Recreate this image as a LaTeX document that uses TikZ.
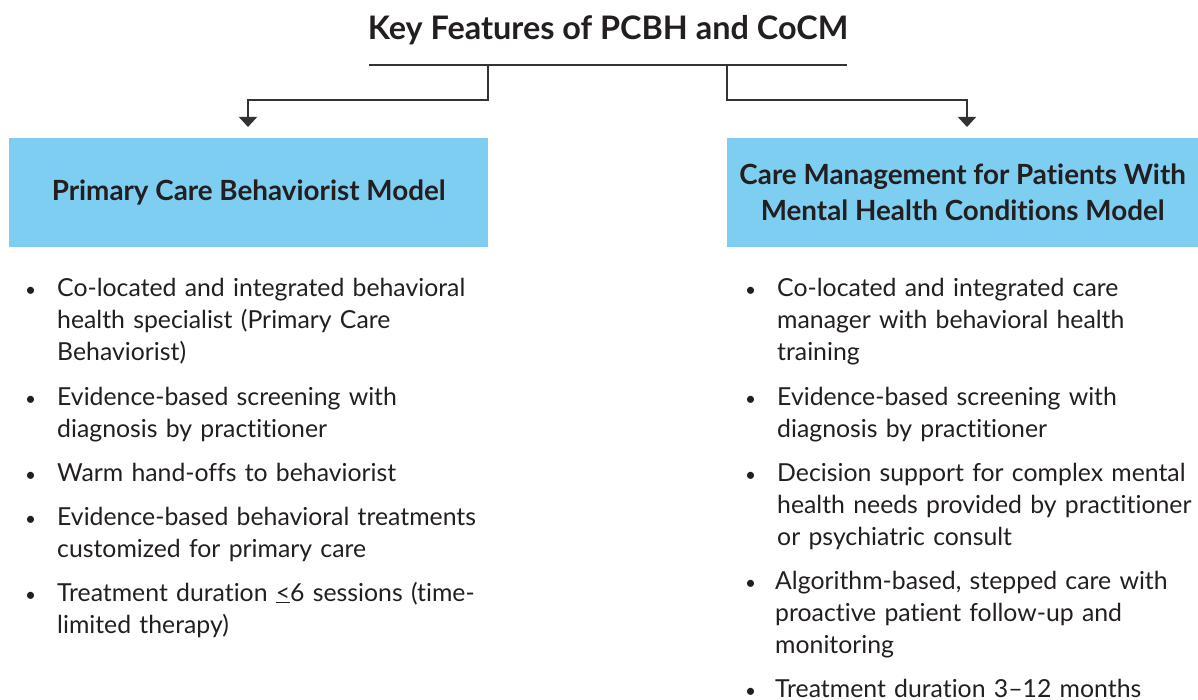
\documentclass[tikz,border=0pt]{standalone}
\usepackage{fontspec}
\setmainfont{Lato}[Ligatures=NoCommon]
\usetikzlibrary{arrows.meta}
\definecolor{boxblue}{HTML}{7ECEF2}
\definecolor{ink}{HTML}{231F20}
\definecolor{linegray}{HTML}{333333}
\tikzset{
  conn/.style={draw=linegray, line width=1.6pt},
  arr/.style={conn, -{Triangle[width=18pt,length=10pt]}},
  headbox/.style={fill=boxblue, draw=none, minimum width=480pt, minimum height=109pt, inner sep=0pt,
     font=\fontsize{27.8}{36}\selectfont\bfseries, text=ink, align=center},
  item/.style={anchor=base west, inner sep=0pt, text width=440pt, align=left,
     font=\fontsize{24.8}{32}\selectfont, text=ink},
  bul/.style={anchor=base west, inner sep=0pt, font=\fontsize{19}{32}\selectfont, text=ink},
}
\begin{document}
\begin{tikzpicture}[x=1pt,y=-1pt]
\useasboundingbox (0,0) rectangle (1198,700);
% title
\node[anchor=base, inner sep=0pt, font=\fontsize{32.4}{36}\selectfont\bfseries, text=ink] (title) at (608,40) {Key Features of PCBH and CoCM};
\coordinate (ul) at (369,65);
\coordinate (ur) at (847,65);
\draw[conn] (ul) -- (ur);
\coordinate (tl) at (488,65);
\coordinate (tr) at (727,65);
% boxes
\node[headbox, anchor=north west, minimum width=479pt] (lbox) at (9,138) {Primary Care Behaviorist Model};
\node[headbox, anchor=north west, minimum width=471pt] (rbox) at (727,138) {Care Management for Patients With\\Mental Health Conditions Model};
\coordinate (la) at (248,127);
\coordinate (ra) at (967,127);
\draw[arr] (tl) -- ++(0,35) -| (la);
\draw[arr] (tr) -- ++(0,35) -| (ra);
% left list
\node[bul] (lb1) at (25,297) {•};
\node[item] (l1) at (57,297) {Co-located and integrated behavioral\\health specialist (Primary Care\\Behaviorist)};
\node[bul] (lb2) at (25,405) {•};
\node[item] (l2) at (57,405) {Evidence-based screening with\\diagnosis by practitioner};
\node[bul] (lb3) at (25,481) {•};
\node[item] (l3) at (57,481) {Warm hand-offs to behaviorist};
\node[bul] (lb4) at (25,525) {•};
\node[item] (l4) at (57,525) {Evidence-based behavioral treatments\\customized for primary care};
\node[bul] (lb5) at (25,601) {•};
\node[item] (l5) at (57,601) {Treatment duration \underline{<}6 sessions (time-\\limited therapy)};
% right list
\node[bul] (rb1) at (745,297) {•};
\node[item] (r1) at (777,297) {Co-located and integrated care\\manager with behavioral health\\training};
\node[bul] (rb2) at (745,405) {•};
\node[item] (r2) at (777,405) {Evidence-based screening with\\diagnosis by practitioner};
\node[bul] (rb3) at (745,481) {•};
\node[item] (r3) at (777,481) {Decision support for complex mental\\health needs provided by practitioner\\or psychiatric consult};
\node[bul] (rb4) at (745,589) {•};
\node[item] (r4) at (775,589) {Algorithm-based, stepped care with\\proactive patient follow-up and\\monitoring};
\node[bul] (rb5) at (745,697) {•};
\node[item] (r5) at (775,697) {Treatment duration 3–12 months};
\end{tikzpicture}
\end{document}
